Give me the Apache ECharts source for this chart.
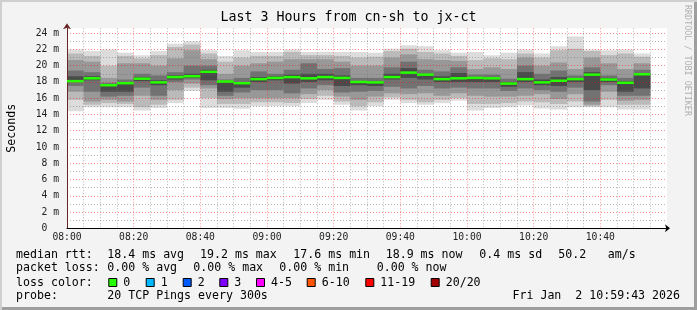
<!DOCTYPE html>
<html>
<head>
<meta charset="utf-8">
<script src="https://cdn.jsdelivr.net/npm/echarts@6/dist/echarts.min.js"></script>
<style>
html, body { margin: 0; padding: 0; background: #f3f3f3; }
#wrap { position: relative; width: 697px; height: 310px; background: #f3f3f3;
        box-shadow: inset 2px 2px 0 #cfcfcf, inset -3px -3px 0 #9e9e9e; }
#chart { position: absolute; left: 0; top: 0; width: 697px; height: 310px; }
</style>
</head>
<body>
<div id="wrap"><div id="chart"></div></div>
<script>
// 5 minute steps starting 08:00, one smoke column per step
const stepMin = 5;
// outer -> inner ping bands (ms)
const hi1 = [22.0,21.8,22.0,21.6,21.3,21.8,22.7,23.0,21.9,21.2,21.9,21.7,21.7,22.0,21.7,21.7,21.7,21.7,21.6,22.1,22.5,22.4,21.9,21.6,21.7,21.3,21.6,22.0,21.5,22.4,23.6,22.0,21.9,22.0,21.5];
const lo1 = [14.4,14.9,14.9,14.9,14.5,14.8,15.4,16.9,14.8,14.8,14.7,15.0,15.0,15.0,15.4,15.8,15.2,14.5,15.0,15.8,15.4,15.2,15.4,15.7,14.5,14.8,14.9,15.1,14.75,14.6,14.9,14.9,14.9,14.6,14.6];
const hi2 = [21.5,21.2,20.0,21.2,20.9,21.3,22.3,22.6,21.5,20.5,21.0,21.2,21.2,21.7,21.3,21.3,21.2,21.0,21.1,21.8,22.1,21.7,21.5,21.2,20.7,20.9,20.8,21.5,21.0,21.9,22.1,21.8,21.3,21.5,21.1];
const lo2 = [15.8,15.2,15.4,15.3,14.9,15.2,15.8,17.3,16.0,15.3,15.3,15.5,15.5,15.4,15.9,16.3,15.6,15.0,15.5,16.1,15.8,15.5,15.8,16.0,15.3,15.3,15.4,15.6,15.5,15.3,15.6,15.0,15.8,15.2,15.2];
const hi3 = [20.7,20.5,18.5,20.3,20.3,20.0,20.9,21.9,20.8,19.0,20.0,20.3,20.5,20.8,20.8,20.8,20.5,20.0,20.0,21.0,21.4,20.8,20.7,20.6,19.6,19.8,19.6,21.0,20.0,20.4,19.6,21.0,20.3,19.6,20.3];
const lo3 = [16.8,15.6,15.8,15.6,16.3,15.8,17.0,17.8,17.2,15.9,16.0,16.0,16.0,16.0,16.5,17.0,16.2,15.8,16.2,16.6,16.5,16.6,16.3,16.6,16.3,16.2,16.2,16.3,16.5,15.9,16.5,15.2,16.8,15.7,15.8];
const hi4 = [19.4,19.2,17.9,18.3,19.0,18.8,19.2,20.0,20.0,18.3,18.5,19.3,19.0,19.5,20.3,19.6,19.7,18.5,18.5,19.8,20.5,19.5,19.3,19.8,18.9,18.9,18.4,20.0,19.0,19.4,18.8,19.8,18.8,18.5,19.5];
const lo4 = [17.5,16.8,16.2,16.3,17.3,16.3,18.0,18.3,17.6,16.3,16.7,17.0,17.0,16.6,17.2,17.6,16.7,16.8,16.9,17.4,17.2,17.5,17.2,17.3,17.2,17.2,16.9,17.2,17.0,16.8,17.3,15.6,17.6,16.3,16.3];
const hi5 = [18.7,18.7,17.7,17.9,18.6,18.2,18.8,19.0,19.5,18.1,18.0,18.6,18.7,18.9,19.0,19.0,18.8,18.1,18.1,19.0,19.7,19.0,18.7,19.1,18.6,18.6,18.0,19.2,18.3,18.6,18.5,19.2,18.5,18.1,19.1];
const lo5 = [18.0,18.2,16.8,16.8,18.1,17.6,18.3,18.5,18.2,16.8,17.3,18.0,18.2,17.8,18.0,18.2,17.5,17.6,17.5,18.3,18.5,18.3,18.0,18.0,18.0,18.0,17.4,18.0,17.6,17.5,18.0,17.0,18.0,16.8,17.2];
const median = [18.1,18.45,17.6,17.85,18.4,17.95,18.6,18.7,19.25,18.05,17.85,18.35,18.5,18.6,18.45,18.6,18.5,18.0,17.95,18.6,19.15,18.9,18.35,18.45,18.5,18.45,17.8,18.35,17.95,18.15,18.35,18.9,18.3,17.9,18.95];

const statsRtt = ['18.4 ms avg', '19.2 ms max', '17.6 ms min', '18.9 ms now', '0.4 ms sd', '50.2', 'am/s'];
const statsLoss = ['0.00 % avg', '0.00 % max', '0.00 % min', '0.00 % now'];
const lossLabels = ['0', '1', '2', '3', '4-5', '6-10', '11-19', '20/20'];
const lossColors = ['#26ff00', '#00b8ff', '#0059ff', '#7e00ff', '#ff00ff', '#ff5500', '#ff0000', '#a10000'];

const MONO = '"DejaVu Sans Mono", monospace';
const bandColors = ['#dcdcdc', '#bababa', '#989898', '#727272', '#4a4a4a'];
const bands = [[lo1, hi1], [lo2, hi2], [lo3, hi3], [lo4, hi4], [lo5, hi5]];

function bandSeries(pair, color) {
    return {
        type: 'custom',
        data: pair[0].map((lo, i) => [i * stepMin, (i + 1) * stepMin, lo, pair[1][i]]),
        renderItem: function (params, api) {
            const a = api.coord([api.value(0), api.value(3)]);
            const b = api.coord([api.value(1), api.value(2)]);
            return { type: 'rect', shape: { x: a[0], y: a[1], width: b[0] - a[0], height: b[1] - a[1] },
                     style: { fill: color } };
        },
        silent: true
    };
}

const series = bands.map((p, k) => bandSeries(p, bandColors[k]));
series.push({
    type: 'custom',
    z: 6,
    data: median.map((m, i) => [i * stepMin, (i + 1) * stepMin, m]),
    renderItem: function (params, api) {
        const a = api.coord([api.value(0), api.value(2)]);
        const b = api.coord([api.value(1), api.value(2)]);
        return { type: 'rect', shape: { x: a[0], y: a[1] - 1.25, width: b[0] - a[0], height: 2.5 },
                 style: { fill: lossColors[0] } };
    },
    silent: true
});

// legend block below the plot
const graphic = [];
function txt(x, y, s) {
    graphic.push({ type: 'text', x: x, y: y,
        style: { text: s, font: '11.6px ' + MONO, fill: '#000', align: 'left', verticalAlign: 'middle',
                 textAlign: 'left', textVerticalAlign: 'middle' } });
}
txt(16, 254.5, 'median rtt:');
[107.3, 200, 293.3, 385.7, 479.3, 558.3, 607.7].forEach((x, i) => txt(x, 254.5, statsRtt[i]));
txt(16, 268, 'packet loss:');
[107.3, 193.3, 279.3, 376.7].forEach((x, i) => txt(x, 268, statsLoss[i]));
txt(16, 282.5, 'loss color:');
const boxX = [108.3, 145.7, 182.7, 219.3, 256, 306.7, 365.3, 430.7];
boxX.forEach((x, i) => {
    graphic.push({ type: 'rect', shape: { x: x + 0.5, y: 278.5, width: 8, height: 8 },
                   style: { fill: lossColors[i], stroke: '#000', lineWidth: 1 } });
    txt(x + 15, 282.5, lossLabels[i]);
});
txt(16, 296, 'probe:');
txt(107.3, 296, '20 TCP Pings every 300s');
graphic.push({ type: 'text', x: 680, y: 296,
    style: { text: 'Fri Jan  2 10:59:43 2026', font: '11.6px ' + MONO, fill: '#000',
             align: 'right', verticalAlign: 'middle', textAlign: 'right', textVerticalAlign: 'middle' } });
graphic.push({ type: 'text', x: 687.5, y: 5, rotation: -Math.PI / 2,
    style: { text: 'RRDTOOL / TOBI OETIKER', font: '8.4px ' + MONO, fill: '#b0b0b0',
             align: 'left', verticalAlign: 'middle', textAlign: 'left', textVerticalAlign: 'middle' } });

const majorGrid = 'rgba(255,0,0,0.45)';
const minorGrid = 'rgba(110,110,110,0.5)';

const option = {
    animation: false,
    backgroundColor: 'transparent',
    title: {
        text: 'Last 3 Hours from cn-sh to jx-ct',
        left: 'center', top: 11, padding: 0,
        textStyle: { fontFamily: MONO, fontSize: 13.3, fontWeight: 'normal', color: '#000' }
    },
    grid: { left: 67, top: 28.3, width: 600, height: 200, show: true, backgroundColor: '#fff', borderWidth: 0,
            containLabel: false, outerBoundsMode: 'none' },
    xAxis: {
        type: 'value', min: 0, max: 180, interval: 5, z: 4,
        axisLine: { lineStyle: { color: '#000', width: 1 }, symbol: ['none', 'arrow'], symbolSize: [6, 5], symbolOffset: [0, 3] },
        axisTick: { show: false },
        axisLabel: {
            margin: 4, fontFamily: MONO, fontSize: 9.7, color: '#222',
            formatter: function (v) {
                if (v % 20 !== 0 || v >= 180) return '';
                const t = 8 * 60 + v;
                return String(Math.floor(t / 60)).padStart(2, '0') + ':' + String(t % 60).padStart(2, '0');
            }
        },
        splitLine: { show: true, showMaxLine: false,
                     lineStyle: { color: [majorGrid, minorGrid, minorGrid, minorGrid], type: [1, 2], width: 1 } }
    },
    yAxis: {
        type: 'value', min: 0, max: 24.6, interval: 1, z: 4,
        name: 'Seconds', nameLocation: 'middle', nameGap: 49, nameRotate: 90,
        nameTextStyle: { fontFamily: MONO, fontSize: 11.6, color: '#000' },
        axisLine: { show: true, lineStyle: { color: '#6b2424', width: 1 }, symbol: ['none', 'arrow'], symbolSize: [6, 6], symbolOffset: [0, 5] },
        axisTick: { show: false },
        axisLabel: {
            margin: 8, fontFamily: MONO, fontSize: 9.7, color: '#222', showMaxLabel: false,
            formatter: function (v) {
                if (v % 2 !== 0) return '';
                return v === 0 ? '0  ' : v + ' m';
            }
        },
        splitLine: { show: true, showMaxLine: false,
                     lineStyle: { color: [majorGrid, minorGrid], type: [1, 2], width: 1 } }
    },
    graphic: graphic,
    series: series
};

const chart = echarts.init(document.getElementById('chart'));
chart.setOption(option);
</script>
</body>
</html>
